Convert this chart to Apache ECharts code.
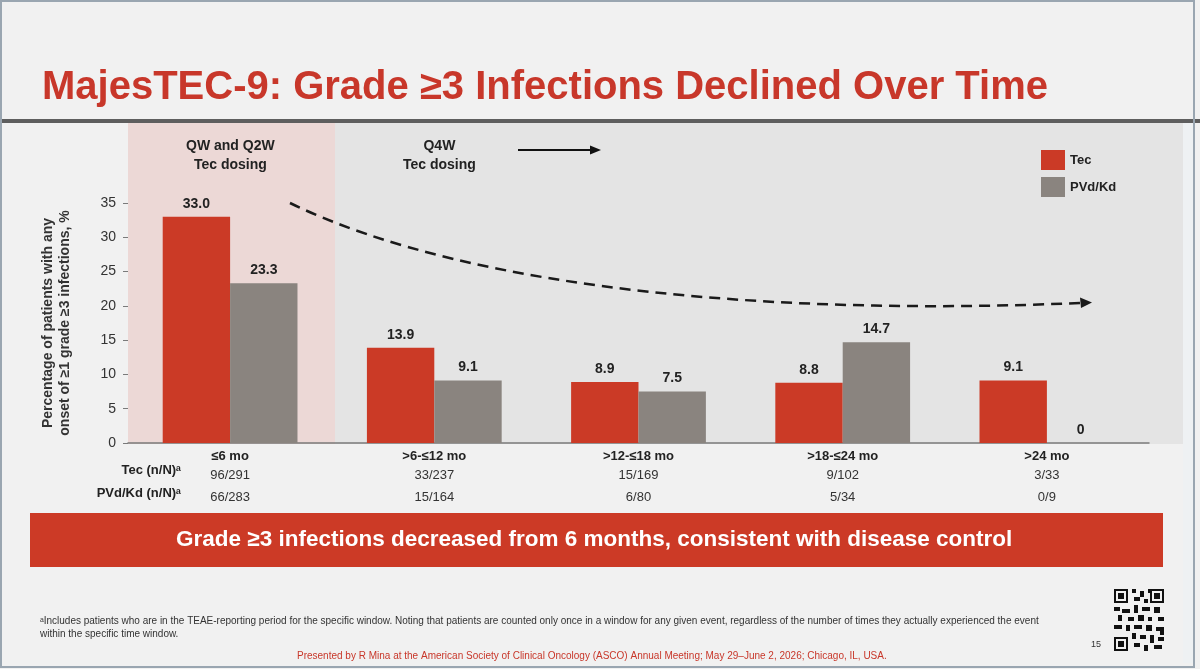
<!DOCTYPE html>
<html lang="en">
<head>
    <meta charset="UTF-8">
    <script src="https://cdn.jsdelivr.net/npm/echarts@6/dist/echarts.min.js" type="text/javascript"></script>
    <style>
        html,body{margin:0;padding:0;background:#f1f1f1}
        #chart{width:1200px;height:669px}
    </style>
    <title>MajesTEC-9</title>
</head>
<body>
<div id="chart"></div>
<script type="text/javascript">
    // data
    var categories = ['≤6 mo', '>6-≤12 mo', '>12-≤18 mo', '>18-≤24 mo', '>24 mo'];
    var tecValues = [33.0, 13.9, 8.9, 8.8, 9.1];
    var pvdValues = [23.3, 9.1, 7.5, 14.7, 0];
    var tecCounts = ['96/291', '33/237', '15/169', '9/102', '3/33'];
    var pvdCounts = ['66/283', '15/164', '6/80', '5/34', '0/9'];
    var seriesNames = ['Tec', 'PVd/Kd'];

    var RED = '#cb3a26';
    var GREY = '#8a847f';
    var FONT = '"Liberation Sans", Arial, sans-serif';
    var NARROW = '"Liberation Sans Narrow", "Liberation Sans", Arial, sans-serif';

    var ec = echarts.init(document.getElementById('chart'));

    function valueLabel(p) {
        return p.value === 0 ? '0' : p.value.toFixed(1);
    }

    // simple QR-like decoration
    function finder(x, y) {
        return [
            {type: 'rect', shape: {x: x, y: y, width: 14, height: 14}, style: {fill: '#111'}},
            {type: 'rect', shape: {x: x + 2, y: y + 2, width: 10, height: 10}, style: {fill: '#f1f1f1'}},
            {type: 'rect', shape: {x: x + 4, y: y + 4, width: 6, height: 6}, style: {fill: '#111'}}
        ];
    }
    var qrBlocks = [[18,0,4,4],[26,2,4,6],[34,0,4,4],[20,8,6,4],[30,10,4,4],[0,18,6,4],[8,20,8,4],[20,16,4,8],
        [28,18,8,4],[40,18,6,6],[4,26,4,6],[14,28,6,4],[24,26,6,6],[34,28,4,4],[44,28,6,4],[0,36,8,4],
        [12,36,4,6],[20,36,8,4],[32,36,6,6],[42,38,8,4],[18,44,4,6],[26,46,6,4],[36,46,4,8],[44,48,6,4],
        [20,54,6,4],[30,56,4,6],[40,56,8,4],[46,42,4,4]];
    var qr = finder(1114, 589).concat(finder(1150, 589), finder(1114, 637));
    qrBlocks.forEach(function (b) {
        qr.push({type: 'rect', shape: {x: 1114 + b[0], y: 589 + b[1], width: b[2], height: b[3]}, style: {fill: '#111'}});
    });

    var option = {
        backgroundColor: '#f1f1f1',
        animation: false,
        title: {
            text: 'MajesTEC-9: Grade ≥3 Infections Declined Over Time',
            left: 37,
            top: 63,
            textStyle: {color: '#c8372a', fontSize: 40, fontWeight: 'bold', fontFamily: FONT}
        },
        legend: {
            data: seriesNames,
            orient: 'vertical',
            left: 1036,
            top: 145,
            itemWidth: 24,
            itemHeight: 20,
            itemGap: 7,
            itemStyle: {borderWidth: 0},
            icon: 'rect',
            textStyle: {fontSize: 13, fontWeight: 'bold', color: '#222', fontFamily: FONT}
        },
        grid: {left: 128, right: 51, top: 203, bottom: 226},
        xAxis: {
            type: 'category',
            data: categories,
            axisLine: {lineStyle: {color: '#7a7a7a', width: 1.5}},
            axisTick: {show: false},
            axisLabel: {
                margin: 5,
                fontFamily: FONT,
                formatter: function (v, i) {
                    return '{c|' + v + '}\n{n|' + tecCounts[i] + '}\n{n|' + pvdCounts[i] + '}';
                },
                rich: {
                    c: {fontSize: 13, fontWeight: 'bold', color: '#222', lineHeight: 16, fontFamily: FONT},
                    n: {fontSize: 13, color: '#333', lineHeight: 22, fontFamily: FONT}
                }
            }
        },
        yAxis: {
            type: 'value',
            min: 0,
            max: 35,
            interval: 5,
            name: 'Percentage of patients with any\nonset of ≥1 grade ≥3 infections, %',
            nameLocation: 'middle',
            nameGap: 54,
            nameTextStyle: {fontSize: 14, fontWeight: 'bold', color: '#333', lineHeight: 17, fontFamily: FONT},
            axisLine: {show: false},
            axisTick: {show: true, length: 5, lineStyle: {color: '#7a7a7a'}},
            splitLine: {show: false},
            axisLabel: {fontSize: 14, color: '#333', margin: 12, fontFamily: FONT}
        },
        series: [
            {
                name: seriesNames[0],
                type: 'bar',
                data: tecValues,
                barGap: '0%',
                barCategoryGap: '34%',
                itemStyle: {color: RED},
                label: {show: true, position: 'top', distance: 6, formatter: valueLabel,
                    fontSize: 14, fontWeight: 'bold', color: '#222', fontFamily: FONT}
            },
            {
                name: seriesNames[1],
                type: 'bar',
                data: pvdValues,
                itemStyle: {color: GREY},
                label: {show: true, position: 'top', distance: 6, formatter: valueLabel,
                    fontSize: 14, fontWeight: 'bold', color: '#222', fontFamily: FONT}
            }
        ],
        graphic: [
            {
                type: 'group',
                z: -10,
                children: [
                    {type: 'rect', shape: {x: 0, y: 119, width: 1200, height: 4}, style: {fill: '#5e5e5e'}},
                    {type: 'rect', shape: {x: 335, y: 123, width: 848, height: 321}, style: {fill: '#e4e4e4'}},
                    {type: 'rect', shape: {x: 128, y: 123, width: 207, height: 321}, style: {fill: '#ecd8d6'}},
                    {type: 'rect', shape: {x: 1183, y: 123, width: 10, height: 540}, style: {fill: '#eef1f3'}},
                    {type: 'rect', shape: {x: 1, y: 1, width: 1193, height: 666},
                        style: {fill: 'none', stroke: '#9aa6b1', lineWidth: 2}}
                ]
            },
            {
                type: 'text', left: 231 - 45, top: 137,
                style: {text: 'QW and Q2W\nTec dosing', fontSize: 14, fontWeight: 'bold',
                    fill: '#222', lineHeight: 19, fontFamily: FONT, x: 45, textAlign: 'center'}
            },
            {
                type: 'text', left: 443 - 40, top: 137,
                style: {text: 'Q4W\nTec dosing', fontSize: 14, fontWeight: 'bold', fill: '#222',
                    lineHeight: 19, fontFamily: FONT, x: 40, textAlign: 'center'}
            },
            {type: 'line', shape: {x1: 518, y1: 150, x2: 592, y2: 150}, style: {stroke: '#111', lineWidth: 2}},
            {type: 'polygon', shape: {points: [[601, 150], [590, 145.5], [590, 154.5]]}, style: {fill: '#111'}},
            {
                type: 'bezierCurve',
                shape: {x1: 290, y1: 203, cpx1: 480, cpy1: 295, cpx2: 800, cpy2: 315, x2: 1080, y2: 303},
                style: {stroke: '#1a1a1a', lineWidth: 2.5, lineDash: [11, 7], fill: 'none'}
            },
            {type: 'polygon', shape: {points: [[1092, 302.5], [1080, 297.5], [1081, 308]]}, style: {fill: '#1a1a1a'}},
            {
                type: 'text', right: 1200 - 181, top: 464,
                style: {text: 'Tec (n/N)ᵃ', fontSize: 13, fontWeight: 'bold', fill: '#222', fontFamily: FONT}
            },
            {
                type: 'text', right: 1200 - 181, top: 487,
                style: {text: 'PVd/Kd (n/N)ᵃ', fontSize: 13, fontWeight: 'bold', fill: '#222', fontFamily: FONT}
            },
            {type: 'rect', shape: {x: 30, y: 513, width: 1133, height: 54}, style: {fill: '#cc3a26'}},
            {
                type: 'text', left: 596 - 420, top: 528,
                style: {text: 'Grade ≥3 infections decreased from 6 months, consistent with disease control',
                    fontSize: 22.5, fontWeight: 'bold', fill: '#fff', fontFamily: FONT, x: 420, textAlign: 'center'}
            },
            {
                type: 'text', left: 40, top: 615,
                style: {text: 'ᵃIncludes patients who are in the TEAE-reporting period for the specific window. Noting that patients are counted only once in a window for any given event, regardless of the number of times they actually experienced the event\nwithin the specific time window.',
                    fontSize: 10, fill: '#333', lineHeight: 13, fontFamily: NARROW}
            },
            {
                type: 'text', left: 597 - 300, top: 651,
                style: {text: 'Presented by R Mina at the American Society of Clinical Oncology (ASCO) Annual Meeting; May 29–June 2, 2026; Chicago, IL, USA.',
                    fontSize: 10, fill: '#c8372a', fontFamily: NARROW, x: 300, textAlign: 'center'}
            },
            {
                type: 'text', left: 1091, top: 640,
                style: {text: '15', fontSize: 9, fill: '#333', fontFamily: NARROW}
            },
            {type: 'group', children: qr}
        ]
    };
    ec.setOption(option);
</script>
</body>
</html>
